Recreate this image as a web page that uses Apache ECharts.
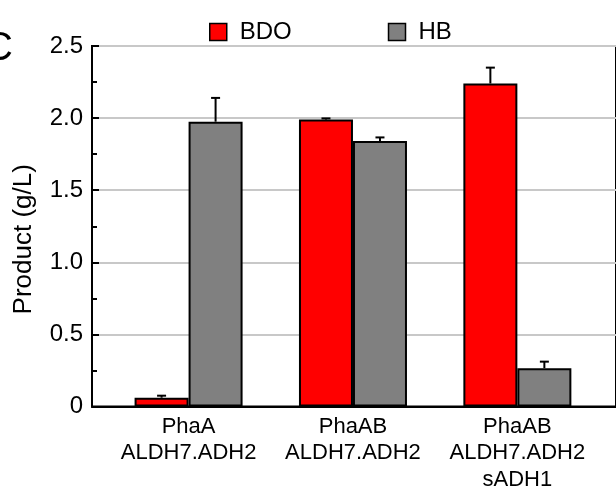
<!DOCTYPE html>
<html>
<head>
<meta charset="utf-8">
<script src="https://cdn.jsdelivr.net/npm/echarts@6/dist/echarts.min.js"></script>
<style>
html,body{margin:0;padding:0;background:#fff;}
#chart{width:616px;height:493px;}
</style>
</head>
<body>
<div id="chart"></div>
<script>
var categories = ['PhaA\nALDH7.ADH2', 'PhaAB\nALDH7.ADH2', 'PhaAB\nALDH7.ADH2\nsADH1'];
var bdoValues = [0.061, 1.99, 2.24];
var bdoErrors = [0.014, 0.008, 0.11];
var hbValues = [1.975, 1.841, 0.266];
var hbErrors = [0.165, 0.025, 0.045];
var yTicks = [0, 0.5, 1.0, 1.5, 2.0, 2.5];

var FONT = '"Liberation Sans", Arial, sans-serif';
var BAR_W = 54;

var chart = echarts.init(document.getElementById('chart'), null, {renderer: 'canvas'});

function barData(vals) {
  return vals.map(function (v, i) { return [i, v]; });
}
function errData(vals, errs, side) {
  return vals.map(function (v, i) { return [i, v, v + errs[i], side]; });
}
function renderErr(params, api) {
  var x = api.value(0);
  var side = api.value(3);
  var p0 = api.coord([x, api.value(1)]);
  var p1 = api.coord([x, api.value(2)]);
  var cx = p0[0] + side * BAR_W / 2;
  var style = {stroke: '#000', lineWidth: 2, fill: null};
  return {
    type: 'group',
    children: [
      {type: 'line', shape: {x1: cx, y1: p0[1], x2: cx, y2: p1[1]}, style: style},
      {type: 'line', shape: {x1: cx - 4.5, y1: p1[1], x2: cx + 4.5, y2: p1[1]}, style: style}
    ]
  };
}

var option = {
  animation: false,
  backgroundColor: '#fff',
  textStyle: {fontFamily: FONT},
  legend: {
    left: 204,
    top: 15,
    itemWidth: 17,
    itemHeight: 17,
    itemGap: 96,
    icon: 'rect',
    textStyle: {fontSize: 24, color: '#000', fontFamily: FONT, padding: [0, 0, 0, 8]},
    data: [
      {name: 'BDO', itemStyle: {color: '#ff0000', borderColor: '#000', borderWidth: 1.5}},
      {name: 'HB', itemStyle: {color: '#808080', borderColor: '#000', borderWidth: 1.5}}
    ]
  },
  graphic: [{
    type: 'text', left: -16, top: 29,
    style: {text: 'C', font: '40px ' + FONT, fill: '#000'}
  }],
  grid: {
    left: 92, top: 46, bottom: 80, width: 535.5,
    show: true, borderColor: '#000', borderWidth: 2, backgroundColor: 'transparent'
  },
  xAxis: {
    type: 'value',
    min: -0.5875,
    max: 2.6,
    axisLine: {show: true, lineStyle: {color: '#000', width: 2}},
    axisTick: {show: false},
    splitLine: {show: false},
    axisLabel: {
      customValues: [0, 1, 2],
      formatter: function (v) { return categories[Math.round(v)] || ''; },
      fontSize: 22, color: '#000', fontFamily: FONT, lineHeight: 26.5, margin: 7,
      showMinLabel: true, showMaxLabel: true
    }
  },
  yAxis: {
    type: 'value',
    min: 0, max: 2.5, interval: 0.5,
    name: 'Product (g/L)',
    nameLocation: 'middle',
    nameGap: 55,
    nameTextStyle: {fontSize: 26, color: '#000', fontFamily: FONT, padding: [0, 26, 0, 0]},
    axisLine: {show: true, onZero: false, lineStyle: {color: '#000', width: 2}},
    axisTick: {show: true, inside: true, length: 7, lineStyle: {color: '#000', width: 2}},
    minorTick: {show: true, splitNumber: 2, length: 5, lineStyle: {color: '#000', width: 2}},
    splitLine: {show: true, lineStyle: {color: '#c8c8c8', width: 2}},
    axisLabel: {
      fontSize: 24, color: '#000', fontFamily: FONT, margin: 9,
      formatter: function (v) { return v === 0 ? '0' : v.toFixed(1); }
    }
  },
  series: [
    {
      name: 'BDO', type: 'bar', data: barData(bdoValues),
      barWidth: BAR_W, barGap: '0%',
      itemStyle: {color: '#ff0000', borderColor: '#000', borderWidth: 2}
    },
    {
      name: 'HB', type: 'bar', data: barData(hbValues),
      barWidth: BAR_W, barGap: '0%',
      itemStyle: {color: '#808080', borderColor: '#000', borderWidth: 2}
    },
    {
      type: 'custom', renderItem: renderErr, data: errData(bdoValues, bdoErrors, -1),
      z: 5, silent: true, encode: {x: 0, y: [1, 2]}
    },
    {
      type: 'custom', renderItem: renderErr, data: errData(hbValues, hbErrors, 1),
      z: 5, silent: true, encode: {x: 0, y: [1, 2]}
    }
  ]
};
chart.setOption(option);
</script>
</body>
</html>
